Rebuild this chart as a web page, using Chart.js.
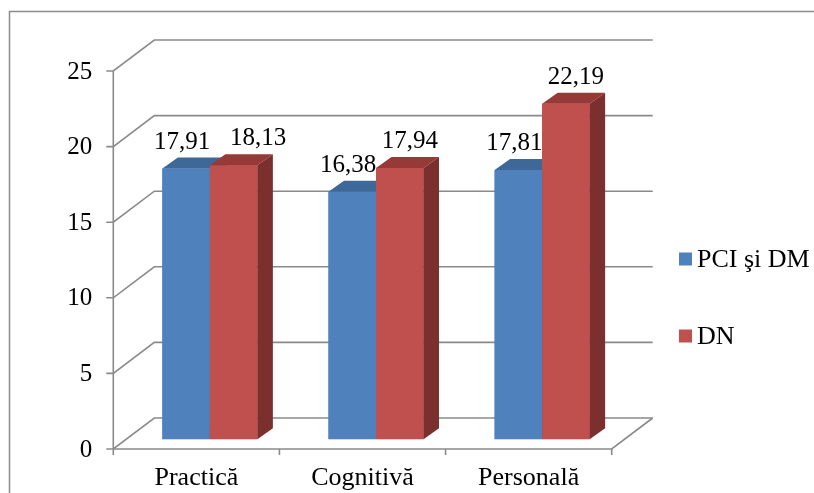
<!DOCTYPE html>
<html>
<head>
<meta charset="utf-8">
<script src="https://cdn.jsdelivr.net/npm/chart.js@4/dist/chart.umd.min.js"></script>
<style>
  html, body { margin: 0; padding: 0; background: #ffffff; }
  canvas { display: block; }
</style>
</head>
<body>
<canvas id="chart" width="814" height="493"></canvas>
<script>
// Categories, series and axis ticks
const categories = ['Practică', 'Cognitivă', 'Personală'];
const seriesNames = ['PCI şi DM', 'DN'];
const pciDmValues = [17.91, 16.38, 17.81];
const dnValues = [18.13, 17.94, 22.19];
const yTickValues = [0, 5, 10, 15, 20, 25];

// Styling
const FONT_FAMILY = '"Liberation Serif", "Times New Roman", serif';
const GRID_COLOR = '#8a8a8a';
const FACE_COLORS = [
  { front: '#4f81bd', top: '#3d6898', side: '#385d8a' },
  { front: '#c0504d', top: '#963a37', side: '#7c302e' }
];
// Oblique offsets of the 3-D box, relative to the front plane of the axes
const BAR_SHIFT = { x: 13.5, y: -9.7 };   // front face of the columns
const BAR_DEPTH = { x: 15.5, y: -11 };    // column depth
const WALL_SHIFT = { x: 41, y: -31 };     // back wall

const fmt = v => v.toFixed(2).replace('.', ',');

const box3d = {
  id: 'box3d',
  beforeDraw(chart) {
    const { ctx, chartArea: a, scales: { x, y } } = chart;
    ctx.save();
    ctx.fillStyle = '#ffffff';
    ctx.fillRect(0, 0, chart.width, chart.height);

    // outer frame
    ctx.strokeStyle = '#8c8c8c';
    ctx.lineWidth = 1.5;
    ctx.strokeRect(9.5, 11.5, chart.width + 40, chart.height + 40);

    ctx.strokeStyle = GRID_COLOR;
    ctx.lineWidth = 1.6;
    // value gridlines: tick, side wall diagonal, back wall line
    y.ticks.forEach(t => {
      const py = y.getPixelForValue(t.value);
      ctx.beginPath();
      ctx.moveTo(a.left - 7, py);
      ctx.lineTo(a.left, py);
      ctx.lineTo(a.left + WALL_SHIFT.x, py + WALL_SHIFT.y);
      ctx.lineTo(a.right + WALL_SHIFT.x, py + WALL_SHIFT.y);
      ctx.stroke();
    });
    // floor front edge and right edge
    ctx.beginPath();
    ctx.moveTo(a.left, a.bottom);
    ctx.lineTo(a.right, a.bottom);
    ctx.lineTo(a.right + WALL_SHIFT.x, a.bottom + WALL_SHIFT.y);
    ctx.stroke();
    // vertical axis line
    ctx.beginPath();
    ctx.moveTo(a.left, y.getPixelForValue(y.max));
    ctx.lineTo(a.left, a.bottom);
    ctx.stroke();
    // category ticks
    const step = x.getPixelForValue(1) - x.getPixelForValue(0);
    for (let i = 0; i <= categories.length; i++) {
      const bx = x.getPixelForValue(0) - step / 2 + i * step;
      ctx.beginPath();
      ctx.moveTo(bx, a.bottom);
      ctx.lineTo(bx, a.bottom + 6);
      ctx.stroke();
    }
    ctx.restore();
  },
  beforeDatasetsDraw(chart) {
    chart.ctx.save();
    chart.ctx.translate(BAR_SHIFT.x, BAR_SHIFT.y);
  },
  afterDatasetsDraw(chart) {
    const { ctx } = chart;
    const dx = BAR_DEPTH.x, dy = BAR_DEPTH.y;
    // paint columns front to back in series order so each column hides
    // the side face of the one on its left
    chart.data.datasets.forEach((ds, di) => {
      const colors = FACE_COLORS[di];
      chart.getDatasetMeta(di).data.forEach(bar => {
        bar.draw(ctx);
        const { x: cx, y: top, base, width } = bar.getProps(['x', 'y', 'base', 'width'], true);
        const l = cx - width / 2, r = cx + width / 2;
        ctx.fillStyle = colors.top;
        ctx.beginPath();
        ctx.moveTo(l, top);
        ctx.lineTo(l + dx, top + dy);
        ctx.lineTo(r + dx, top + dy);
        ctx.lineTo(r, top);
        ctx.closePath();
        ctx.fill();
        ctx.fillStyle = colors.side;
        ctx.beginPath();
        ctx.moveTo(r, top);
        ctx.lineTo(r + dx, top + dy);
        ctx.lineTo(r + dx, base + dy);
        ctx.lineTo(r, base);
        ctx.closePath();
        ctx.fill();
      });
    });
    ctx.restore();
  },
  afterDraw(chart) {
    const { ctx, chartArea: a, scales: { x, y } } = chart;
    ctx.save();
    ctx.fillStyle = '#000000';

    // value axis labels
    ctx.font = '25px ' + FONT_FAMILY;
    ctx.textAlign = 'right';
    ctx.textBaseline = 'middle';
    y.ticks.forEach(t => {
      ctx.fillText(String(t.value), a.left - 21, y.getPixelForValue(t.value) + 1);
    });

    // category labels
    ctx.font = '26px ' + FONT_FAMILY;
    ctx.textAlign = 'center';
    categories.forEach((c, i) => {
      ctx.fillText(c, x.getPixelForValue(i), a.bottom + 29);
    });

    // value labels above the columns
    ctx.font = '25px ' + FONT_FAMILY;
    const metaA = chart.getDatasetMeta(0), metaB = chart.getDatasetMeta(1);
    categories.forEach((c, i) => {
      const ba = metaA.data[i], bb = metaB.data[i];
      const va = chart.data.datasets[0].data[i], vb = chart.data.datasets[1].data[i];
      const la = { x: ba.x + BAR_SHIFT.x - 4, y: ba.y + BAR_SHIFT.y + BAR_DEPTH.y - 15.5 };
      const lb = { x: bb.x + BAR_SHIFT.x + 10, y: bb.y + BAR_SHIFT.y + BAR_DEPTH.y - 15.5 };
      if (Math.abs(la.y - lb.y) < 20 && lb.x - la.x < 76) lb.x = la.x + 76;
      ctx.fillText(fmt(va), la.x, la.y);
      ctx.fillText(fmt(vb), lb.x, lb.y);
    });

    // legend
    ctx.font = '26px ' + FONT_FAMILY;
    ctx.textAlign = 'left';
    const legendY = [259, 336];
    chart.data.datasets.forEach((ds, i) => {
      ctx.fillStyle = ds.backgroundColor;
      ctx.fillRect(679, legendY[i] - 6.5, 13, 13);
      ctx.fillStyle = '#000000';
      ctx.fillText(ds.label, 697, legendY[i] + 1);
    });
    ctx.restore();
  }
};

new Chart(document.getElementById('chart'), {
  type: 'bar',
  data: {
    labels: categories,
    datasets: [
      { label: seriesNames[0], data: pciDmValues, backgroundColor: FACE_COLORS[0].front },
      { label: seriesNames[1], data: dnValues, backgroundColor: FACE_COLORS[1].front }
    ]
  },
  options: {
    responsive: false,
    animation: false,
    devicePixelRatio: 1,
    layout: { padding: { left: 113.3, right: 814 - 611.7, top: 71, bottom: 493 - 449 } },
    datasets: { bar: { categoryPercentage: 0.572, barPercentage: 1, borderWidth: 0 } },
    scales: {
      x: { display: false, offset: true },
      y: {
        display: false,
        min: yTickValues[0],
        max: yTickValues[yTickValues.length - 1],
        ticks: { stepSize: yTickValues[1] - yTickValues[0] }
      }
    },
    plugins: { legend: { display: false }, tooltip: { enabled: false } }
  },
  plugins: [box3d]
});
</script>
</body>
</html>
